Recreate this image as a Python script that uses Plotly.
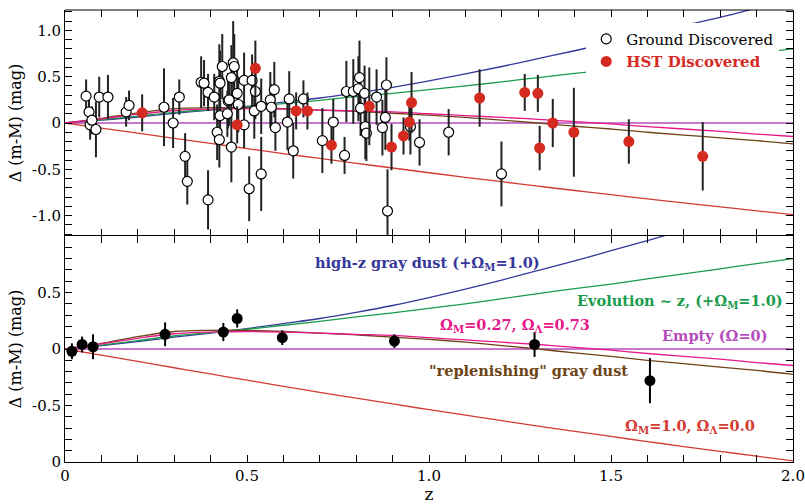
import plotly.graph_objects as go
from plotly.subplots import make_subplots

# ---------------- data ----------------
ground_z = [0.058, 0.066, 0.069, 0.074, 0.085, 0.094, 0.118, 0.168, 0.176, 0.272,
            0.297, 0.314, 0.330, 0.336, 0.374, 0.382, 0.393, 0.393, 0.410, 0.418,
            0.424, 0.424, 0.426, 0.426, 0.432, 0.448, 0.446, 0.451, 0.457, 0.457,
            0.462, 0.465, 0.473, 0.476, 0.492, 0.492, 0.506, 0.514, 0.523, 0.520,
            0.539, 0.539, 0.564, 0.567, 0.575, 0.578, 0.611, 0.616, 0.627, 0.655,
            0.707, 0.737, 0.768, 0.773, 0.792, 0.806, 0.809, 0.812, 0.823, 0.825,
            0.828, 0.856, 0.872, 0.883, 0.880, 0.886, 0.949, 0.974, 1.054, 1.199]
ground_dm = [0.29, 0.12, -0.02, 0.03, -0.07, 0.28, 0.28, 0.12, 0.19, 0.17,
             0.00, 0.28, -0.36, -0.63, 0.44, 0.43, -0.83, 0.33, 0.28, -0.10,
             -0.18, 0.45, 0.43, 0.08, 0.61, 0.24, 0.10, 0.25, 0.49, -0.26,
             0.65, 0.61, 0.32, 0.20, -0.02, 0.46, -0.71, 0.46, 0.34, 0.13,
             0.18, -0.55, 0.25, 0.17, 0.36, -0.05, 0.01, 0.26, -0.30, 0.26,
             -0.19, 0.01, -0.35, 0.34, 0.34, 0.37, 0.49, 0.16, 0.32, -0.04,
             -0.11, 0.28, -0.05, 0.41, 0.06, -0.95, -0.04, -0.21, -0.10, -0.55]
ground_err = [0.18, 0.14, 0.16, 0.15, 0.30, 0.22, 0.24, 0.16, 0.16, 0.42,
              0.27, 0.19, 0.25, 0.25, 0.28, 0.25, 0.32, 0.20, 0.25, 0.30,
              0.30, 0.40, 0.35, 0.30, 0.35, 0.30, 0.25, 0.28, 0.35, 0.38,
              0.45, 0.35, 0.30, 0.30, 0.25, 0.30, 0.35, 0.28, 0.30, 0.30,
              0.30, 0.40, 0.30, 0.25, 0.30, 0.25, 0.30, 0.30, 0.30, 0.20,
              0.35, 0.25, 0.20, 0.33, 0.35, 0.35, 0.40, 0.30, 0.30, 0.35,
              0.30, 0.30, 0.30, 0.30, 0.35, 0.45, 0.30, 0.25, 0.25, 0.35]

hst_z = [0.212, 0.473, 0.523, 0.635, 0.666, 0.732, 0.836, 0.897, 0.930, 0.946,
         0.952, 1.139, 1.263, 1.299, 1.304, 1.340, 1.398, 1.549, 1.752]
hst_dm = [0.11, -0.02, 0.59, 0.13, 0.13, -0.24, 0.18, -0.26, -0.14, 0.01,
          0.22, 0.27, 0.33, 0.32, -0.27, 0.00, -0.10, -0.20, -0.36]
hst_err = [0.20, 0.20, 0.30, 0.20, 0.20, 0.20, 0.42, 0.25, 0.20, 0.20,
           0.33, 0.31, 0.20, 0.20, 0.24, 0.26, 0.48, 0.24, 0.37]

bin_z = [0.019, 0.047, 0.077, 0.275, 0.435, 0.473, 0.597, 0.905, 1.290, 1.607]
bin_dm = [-0.02, 0.04, 0.02, 0.13, 0.15, 0.27, 0.10, 0.07, 0.04, -0.28]
bin_err = [0.07, 0.07, 0.11, 0.105, 0.08, 0.08, 0.065, 0.06, 0.11, 0.20]

model_z = [0.0, 0.1, 0.2, 0.3, 0.4, 0.5, 0.6, 0.7, 0.8, 0.9, 1.0,
           1.1, 1.2, 1.3, 1.4, 1.5, 1.6, 1.7, 1.8, 1.9, 2.0]
graydust_highz = [0, 0.03, 0.065, 0.105, 0.14, 0.18, 0.225, 0.27, 0.325, 0.385, 0.455,
                  0.53, 0.61, 0.695, 0.78, 0.87, 0.96, 1.05, 1.14, 1.24, 1.34]
evolution = [0, 0.035, 0.075, 0.115, 0.145, 0.175, 0.21, 0.245, 0.285, 0.32, 0.36,
             0.40, 0.445, 0.49, 0.535, 0.575, 0.62, 0.665, 0.71, 0.755, 0.80]
lcdm = [0, 0.045, 0.095, 0.135, 0.15, 0.155, 0.15, 0.14, 0.13, 0.12, 0.10,
        0.08, 0.06, 0.04, 0.015, -0.01, -0.04, -0.065, -0.09, -0.12, -0.146]
empty = [0.0] * 21
replenish = [0, 0.05, 0.11, 0.155, 0.165, 0.165, 0.155, 0.14, 0.125, 0.105, 0.085,
             0.06, 0.03, 0.0, -0.035, -0.065, -0.10, -0.13, -0.16, -0.19, -0.225]
eds = [0, -0.055, -0.110, -0.166, -0.221, -0.276, -0.330, -0.383, -0.435, -0.486, -0.537,
       -0.586, -0.634, -0.682, -0.729, -0.774, -0.819, -0.863, -0.906, -0.948, -0.990]

# ---------------- styling ----------------
FONT = "DejaVu Serif"
C_BLUE = "#35389a"
C_GREEN = "#1a9c4c"
C_PINK = "#e6188a"
C_PURPLE = "#b64dbe"
C_BROWN = "#6e4416"
C_RED = "#d23c32"
C_HST = "#d42a1f"

curves = [
    (graydust_highz, C_BLUE),
    (evolution, C_GREEN),
    (empty, C_PURPLE),
    (eds, C_RED),
    (replenish, C_BROWN),
    (lcdm, C_PINK),
]

fig = make_subplots(rows=2, cols=1, shared_xaxes=True, vertical_spacing=0)

for row in (1, 2):
    for vals, col in curves:
        fig.add_trace(go.Scatter(x=model_z, y=vals, mode="lines", line=dict(color=col, width=1.3, shape="spline"),
                                 showlegend=False, hoverinfo="skip"), row=row, col=1)

fig.add_trace(go.Scatter(
    x=ground_z, y=ground_dm, mode="markers", name="Ground Discovered",
    marker=dict(symbol="circle", size=10, color="white", line=dict(color="black", width=1.2)),
    error_y=dict(type="data", array=ground_err, color="#222222", thickness=2, width=0),
), row=1, col=1)

fig.add_trace(go.Scatter(
    x=hst_z, y=hst_dm, mode="markers",
    name="<b><span style='color:%s'>HST Discovered</span></b>" % C_HST,
    marker=dict(symbol="circle", size=11, color=C_HST, line=dict(color=C_HST, width=0)),
    error_y=dict(type="data", array=hst_err, color="#222222", thickness=2, width=0),
), row=1, col=1)

fig.add_trace(go.Scatter(
    x=bin_z, y=bin_dm, mode="markers", showlegend=False,
    marker=dict(symbol="circle", size=11, color="black"),
    error_y=dict(type="data", array=bin_err, color="black", thickness=2, width=0),
), row=2, col=1)

tickfont = dict(family=FONT, size=15, color="black")
axis_common = dict(showline=True, linecolor="black", linewidth=1, mirror="allticks",
                   ticks="inside", ticklen=7, tickwidth=1.2, tickcolor="black",
                   showgrid=False, zeroline=False, tickfont=tickfont, automargin=False)

fig.update_xaxes(range=[0, 2.0], tickvals=[0, 0.5, 1.0, 1.5, 2.0],
                 ticktext=["0", "0.5", "1.0", "1.5", "2.0"], ticklabeloverflow="allow",
                 minor=dict(dtick=0.1, tick0=0, ticks="inside", ticklen=7, tickcolor="black", tickwidth=1.2),
                 **axis_common)
# top panel: no own axis line (the shared middle border comes from the lower panel)
fig.update_xaxes(showticklabels=False, showline=False, row=1, col=1)
fig.update_xaxes(title=dict(text="z", font=dict(family=FONT, size=17, color="black"), standoff=2), row=2, col=1)

ytitle = dict(text="Δ (m-M) (mag)", font=dict(family=FONT, size=16, color="black"), standoff=6)
fig.update_yaxes(range=[-1.22, 1.22], tickvals=[-1.0, -0.5, 0, 0.5, 1.0],
                 ticktext=["-1.0", "-0.5", "0", "0.5", "1.0"],
                 minor=dict(dtick=0.1, tick0=0, ticks="inside", ticklen=7, tickcolor="black", tickwidth=1.2),
                 title=ytitle, row=1, col=1, **axis_common)
fig.update_yaxes(range=[-1.0, 1.0], tickvals=[-1.0, -0.5, 0, 0.5],
                 ticktext=["0", "-0.5", "0", "0.5"],
                 minor=dict(dtick=0.1, tick0=0, ticks="inside", ticklen=7, tickcolor="black", tickwidth=1.2),
                 title=ytitle, row=2, col=1, **axis_common)

# top border of the upper panel
fig.add_shape(type="line", xref="paper", yref="paper", x0=0, x1=1, y0=1, y1=1,
              line=dict(color="black", width=1), layer="above")

ann_font = dict(family=FONT, size=14.5)
labels = [
    ("high-z gray dust (+Ω<sub>M</sub>=1.0)", 0.995, 0.76, C_BLUE),
    ("Evolution ~ z, (+Ω<sub>M</sub>=1.0)", 1.689, 0.42, C_GREEN),
    ("Ω<sub>M</sub>=0.27, Ω<sub>Λ</sub>=0.73", 1.235, 0.21, C_PINK),
    ("Empty (Ω=0)", 1.787, 0.12, C_PURPLE),
    ("\"replenishing\" gray dust", 1.274, -0.19, C_BROWN),
    ("Ω<sub>M</sub>=1.0, Ω<sub>Λ</sub>=0.0", 1.718, -0.69, C_RED),
]
for txt, xx, yy, col in labels:
    fig.add_annotation(x=xx, y=yy, xref="x2", yref="y2", text="<b>%s</b>" % txt, showarrow=False,
                       font=dict(color=col, **ann_font), xanchor="center", yanchor="middle")

fig.update_layout(
    width=805, height=504,
    margin=dict(l=65, r=12, t=10, b=42, autoexpand=False),
    paper_bgcolor="white", plot_bgcolor="white",
    font=dict(family=FONT, color="black"),
    legend=dict(x=0.716, y=0.972, xanchor="left", yanchor="top",
                bgcolor="white", borderwidth=0, itemwidth=30,
                font=dict(family=FONT, size=15, color="black"),
                tracegroupgap=0),
    showlegend=True,
)

fig.write_html("out.html", config={"displayModeBar": False},
               post_script="document.body.style.margin='0';document.body.style.overflow='hidden';")
